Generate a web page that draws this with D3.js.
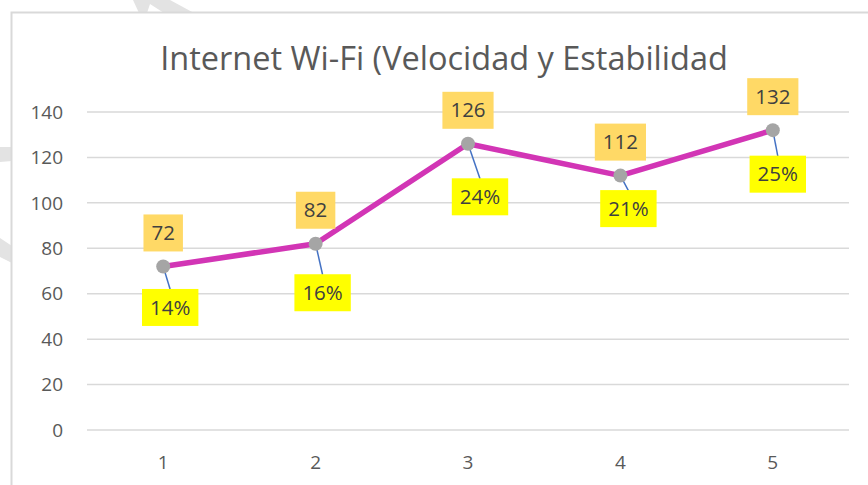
<!DOCTYPE html>
<html>
<head>
<meta charset="utf-8">
<script src="https://cdn.jsdelivr.net/npm/d3@7"></script>
<style>
  html, body { margin: 0; padding: 0; background: #fff; }
  svg { display: block; font-family: "Open Sans", "Noto Sans", sans-serif; }
</style>
</head>
<body>
<script>
// chart values
const categories = ["1", "2", "3", "4", "5"];
const speeds = [72, 82, 126, 112, 132];
const stability = ["14%", "16%", "24%", "21%", "25%"];
const yTicks = [0, 20, 40, 60, 80, 100, 120, 140];
const TITLE = "Internet Wi-Fi (Velocidad y Estabilidad";

// manual placement of the yellow labels (px offset of box centre from the point)
const pctOffsets = [[7, 41], [7, 49], [12, 53], [8, 33], [5, 44]];

const SIZE = { width: 868, height: 485 };
const PLOT = { left: 87, right: 849, top: 112, bottom: 430 };

const svg = d3.select("body").append("svg")
    .attr("width", SIZE.width)
    .attr("height", SIZE.height);

// faint watermark pieces behind the chart
const wm = svg.append("g").attr("fill", "#e3e3e3");
wm.append("polygon").attr("points", "133,0 170,0 194,13 164,13 150,4 147,13 139,13");
wm.append("polygon").attr("points", "0,147 12,147 12,161 0,162");
wm.append("polygon").attr("points", "0,238 12,246 12,263 0,257");

// chart area
svg.append("rect")
    .attr("x", 11.5).attr("y", 12.5)
    .attr("width", 900).attr("height", 520)
    .attr("fill", "#fff")
    .attr("stroke", "#d9d9d9")
    .attr("stroke-width", 2);

const x = d3.scalePoint().domain(categories).range([PLOT.left, PLOT.right]).padding(0.5);
const y = d3.scaleLinear().domain([0, 140]).range([PLOT.bottom, PLOT.top]);

// title
svg.append("text")
    .attr("x", 444).attr("y", 70)
    .attr("text-anchor", "middle")
    .attr("fill", "#595959")
    .attr("font-size", 32.5)
    .text(TITLE);

// gridlines + y labels
const yAxis = svg.append("g");
yAxis.selectAll("line").data(yTicks).join("line")
    .attr("x1", PLOT.left).attr("x2", PLOT.right)
    .attr("y1", d => y(d)).attr("y2", d => y(d))
    .attr("stroke", "#d9d9d9").attr("stroke-width", 1.5);
yAxis.selectAll("text").data(yTicks).join("text")
    .attr("x", 63).attr("y", d => y(d))
    .attr("dy", "0.35em")
    .attr("text-anchor", "end")
    .attr("fill", "#595959")
    .attr("font-size", 19)
    .text(d => d);

// x labels
svg.append("g").selectAll("text").data(categories).join("text")
    .attr("x", d => x(d)).attr("y", 462)
    .attr("dy", "0.35em")
    .attr("text-anchor", "middle")
    .attr("fill", "#595959")
    .attr("font-size", 19)
    .text(d => d);

const pts = categories.map((c, i) => ({ c, v: speeds[i], p: stability[i], off: pctOffsets[i] }));

// leader lines for the percent labels
svg.append("g").selectAll("line").data(pts).join("line")
    .attr("x1", d => x(d.c)).attr("y1", d => y(d.v))
    .attr("x2", d => x(d.c) + d.off[0]).attr("y2", d => y(d.v) + d.off[1] - 18)
    .attr("stroke", "#4472c4").attr("stroke-width", 1.5);

// line + markers
svg.append("path")
    .datum(pts)
    .attr("fill", "none")
    .attr("stroke", "#d235b5")
    .attr("stroke-width", 5.5)
    .attr("stroke-linejoin", "round")
    .attr("d", d3.line().x(d => x(d.c)).y(d => y(d.v)));

svg.append("g").selectAll("circle").data(pts).join("circle")
    .attr("cx", d => x(d.c)).attr("cy", d => y(d.v))
    .attr("r", 7)
    .attr("fill", "#a5a5a5");

// boxed labels
function boxLabel(g, cx, cy, txt, fill) {
    const t = g.append("text")
        .attr("x", cx).attr("y", cy)
        .attr("dy", "0.35em")
        .attr("text-anchor", "middle")
        .attr("fill", "#404040")
        .attr("font-size", 20.5)
        .text(txt);
    const w = t.node().getComputedTextLength() + 16;
    g.insert("rect", "text")
        .attr("x", cx - w / 2).attr("y", cy - 18.5)
        .attr("width", w).attr("height", 37)
        .attr("fill", fill);
}

const labels = svg.append("g");
pts.forEach(d => {
    const g1 = labels.append("g");
    boxLabel(g1, x(d.c), y(d.v) - 15 - 18.5, d.v, "#ffd966");
    const g2 = labels.append("g");
    boxLabel(g2, x(d.c) + d.off[0], y(d.v) + d.off[1], d.p, "#ffff00");
});
</script>
</body>
</html>
